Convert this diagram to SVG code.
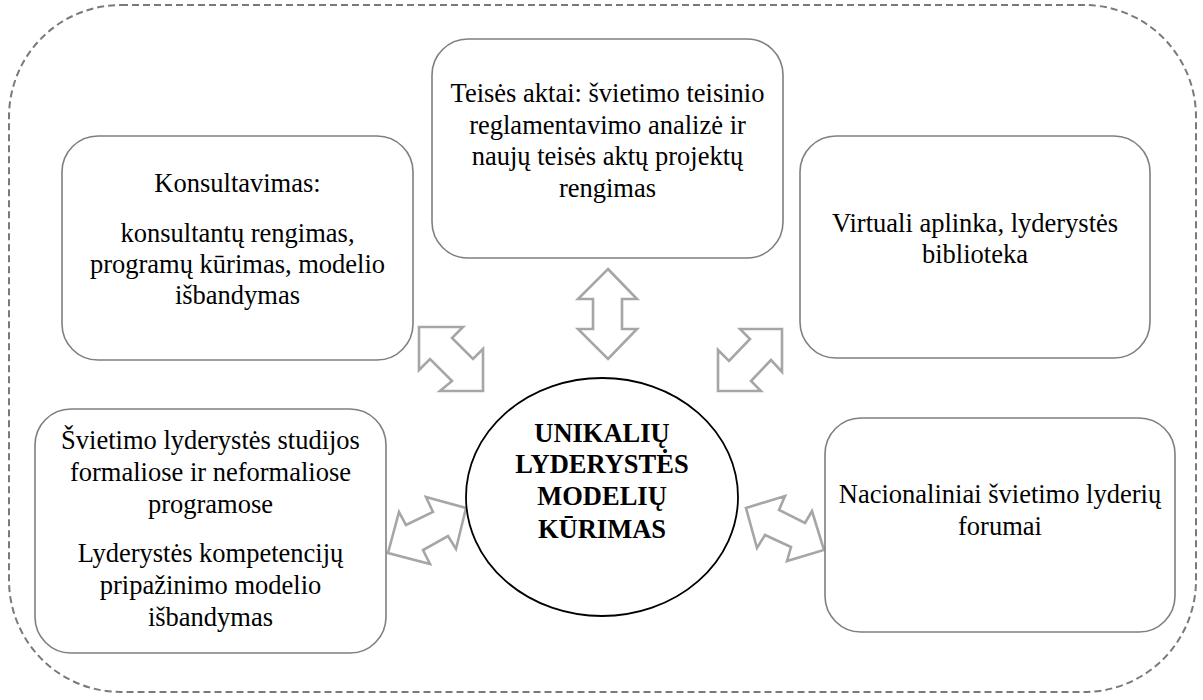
<svg xmlns="http://www.w3.org/2000/svg" width="1203" height="700" viewBox="0 0 1203 700">
  <style>
    .frame { fill: none; stroke: #7a7a7a; stroke-width: 2; stroke-dasharray: 7 4; }
    .box { fill: #ffffff; stroke: #7f7f7f; stroke-width: 1.6; }
    .hub { fill: #ffffff; stroke: #000000; stroke-width: 1.8; }
    .link { fill: #ffffff; stroke: #a6a6a6; stroke-width: 2.6; stroke-linejoin: miter; }
    text { font-family: "Liberation Serif", "Times New Roman", serif; font-size: 26.5px; fill: #000000; text-anchor: middle; }
    .bold { font-weight: bold; }
  </style>

  <!-- outer dashed boundary -->
  <rect class="frame" x="9" y="5" width="1187" height="687" rx="112" ry="112"/>

  <!-- double-headed block arrows -->
  <g id="connectors">
    <polygon class="link" points="419,327 463,327 452,338 473,359 483,349 483,391 440,391 452,381 430,359 419,370"/>
    <polygon class="link" points="608,269 637,299 622,299 622,329 637,329 608,359 578,329 593,329 593,299 578,299"/>
    <polygon class="link" points="782,329 782,372 771,360 751,381 761,391 718,391 718,350 729,361 750,339 740,329"/>
    <polygon class="link" points="466,508 456,549 448,536 423,550 430,564 388,553 399,512 406,525 433,512 426,497"/>
    <polygon class="link" points="746,508 785,496 779,510 805,523 812,511 824,550 787,561 791,547 765,535 757,548"/>
  </g>

  <g id="node-konsultavimas">
    <rect class="box" x="62" y="136" width="351" height="224" rx="36" ry="36"/>
    <text x="237.5" y="192">Konsultavimas:</text>
    <text x="237.5" y="242">konsultantų rengimas,</text>
    <text x="237.5" y="273">programų kūrimas, modelio</text>
    <text x="237.5" y="304">išbandymas</text>
  </g>

  <g id="node-teises-aktai">
    <rect class="box" x="432" y="39" width="351" height="219" rx="36" ry="36"/>
    <text x="607.5" y="102">Teisės aktai: švietimo teisinio</text>
    <text x="607.5" y="134">reglamentavimo analizė ir</text>
    <text x="607.5" y="165">naujų teisės aktų projektų</text>
    <text x="607.5" y="197">rengimas</text>
  </g>

  <g id="node-virtuali-aplinka">
    <rect class="box" x="800" y="136" width="350" height="222" rx="36" ry="36"/>
    <text x="975" y="232">Virtuali aplinka, lyderystės</text>
    <text x="975" y="263">biblioteka</text>
  </g>

  <g id="node-studijos">
    <rect class="box" x="35" y="409" width="351" height="244" rx="36" ry="36"/>
    <text x="210.5" y="449">Švietimo lyderystės studijos</text>
    <text x="210.5" y="481">formaliose ir neformaliose</text>
    <text x="210.5" y="513">programose</text>
    <text x="210.5" y="562">Lyderystės kompetencijų</text>
    <text x="210.5" y="594">pripažinimo modelio</text>
    <text x="210.5" y="626">išbandymas</text>
  </g>

  <g id="node-forumai">
    <rect class="box" x="825" y="418" width="350" height="214" rx="36" ry="36"/>
    <text x="1000" y="503">Nacionaliniai švietimo lyderių</text>
    <text x="1000" y="535">forumai</text>
  </g>

  <g id="node-centras">
    <ellipse class="hub" cx="602" cy="497" rx="136" ry="119"/>
    <text class="bold" x="602" y="442">UNIKALIŲ</text>
    <text class="bold" x="602" y="473">LYDERYSTĖS</text>
    <text class="bold" x="602" y="505">MODELIŲ</text>
    <text class="bold" x="602" y="538">KŪRIMAS</text>
  </g>
</svg>
